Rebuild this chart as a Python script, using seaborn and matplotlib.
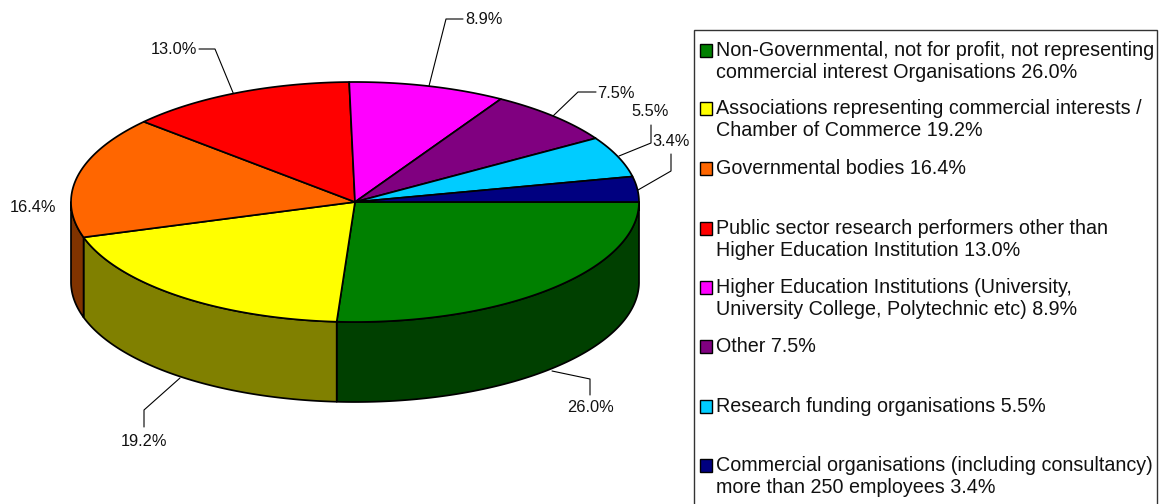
import numpy as np
import pandas as pd
import matplotlib
matplotlib.use("Agg")
import matplotlib.pyplot as plt
from matplotlib.patches import Rectangle
import seaborn as sns

legend_labels = [
    "Non-Governmental, not for profit, not representing\ncommercial interest Organisations 26.0%",
    "Associations representing commercial interests /\nChamber of Commerce 19.2%",
    "Governmental bodies 16.4%",
    "Public sector research performers other than\nHigher Education Institution 13.0%",
    "Higher Education Institutions (University,\nUniversity College, Polytechnic etc) 8.9%",
    "Other 7.5%",
    "Research funding organisations 5.5%",
    "Commercial organisations (including consultancy)\nmore than 250 employees 3.4%",
]
shares = [26.0, 19.2, 16.4, 13.0, 8.9, 7.5, 5.5, 3.4]
top_colors = ["#008000", "#FFFF00", "#FF6600", "#FF0000", "#FF00FF", "#800080", "#00CCFF", "#000080"]
side_colors = ["#004000", "#808000", "#803300", "#800000", "#800080", "#400040", "#006680", "#000040"]

sns.set_theme(style="white")
plt.rcParams["font.family"] = ["Liberation Sans", "DejaVu Sans"]
palette = sns.color_palette(top_colors)
side_palette = sns.color_palette(side_colors)
df = pd.DataFrame({"label": legend_labels, "share": shares})

W, H = 1168, 504
fig = plt.figure(figsize=(W / 100, H / 100), dpi=100)
ax = fig.add_axes([0, 0, 1, 1])
ax.set_xlim(0, W)
ax.set_ylim(H, 0)
ax.axis("off")

cx, cy, rx, ry, depth = 355.0, 202.0, 284.0, 120.0, 80.0
edges = np.concatenate([[0], np.cumsum(df["share"].to_numpy())]) / df["share"].sum() * 2 * np.pi
LW = 1.25


def rim(a0, a1):
    t = np.linspace(a0, a1, max(int((a1 - a0) * 120), 2))
    return cx + rx * np.cos(t), cy + ry * np.sin(t)


# side walls: only the front half of the ellipse is visible
for i in range(len(shares)):
    a0, a1 = edges[i], min(edges[i + 1], np.pi)
    if a0 >= np.pi:
        continue
    x, y = rim(a0, a1)
    ax.fill(np.r_[x, x[::-1]], np.r_[y, y[::-1] + depth],
            facecolor=side_palette[i], edgecolor="black", lw=LW, joinstyle="round", zorder=2)

# top face
for i in range(len(shares)):
    x, y = rim(edges[i], edges[i + 1])
    ax.fill(np.r_[cx, x], np.r_[cy, y], facecolor=palette[i], edgecolor="black",
            lw=LW, joinstyle="round", zorder=3)

# value labels with leaders
leaders = [
    ([552, 590, 590], [371, 379, 395], 590, 408, "center"),
    ([180, 144, 144], [378, 410, 427], 144, 442, "center"),
    (None, None, 10, 208, "left"),
    ([234, 215, 199], [95, 49, 49], 197, 50, "right"),
    ([429, 446, 463], [86, 19, 19], 465, 20, "left"),
    ([553, 578, 596], [116, 92, 92], 597, 93, "left"),
    ([619, 651, 651], [156, 143, 125], 650, 112, "center"),
    ([638, 671, 671], [190, 171, 154], 652, 142, "left"),
]
for share, (lx, ly, tx, ty, ha) in zip(shares, leaders):
    if lx is not None:
        ax.plot(lx, ly, color="black", lw=0.8, zorder=1.5)
    ax.text(tx, ty, f"{share:.1f}%", fontsize=11.8, ha=ha, va="center", color="#111111", zorder=5)

# legend
ax.add_patch(Rectangle((694, 30), 463, 500, facecolor="white", edgecolor="#333333", lw=1.0, zorder=4))
legend_y = [50, 108, 168, 228, 287, 346, 406, 465]
for i, (label, y) in enumerate(zip(df["label"], legend_y)):
    ax.add_patch(Rectangle((699.5, y - 6), 12.5, 12.5, facecolor=palette[i], edgecolor="black", lw=1.0, zorder=5))
    ax.text(716, y - 9, label, fontsize=14.2, ha="left", va="top", linespacing=1.23, color="#111111", zorder=5)

fig.savefig("out.png", dpi=100, facecolor="white")
